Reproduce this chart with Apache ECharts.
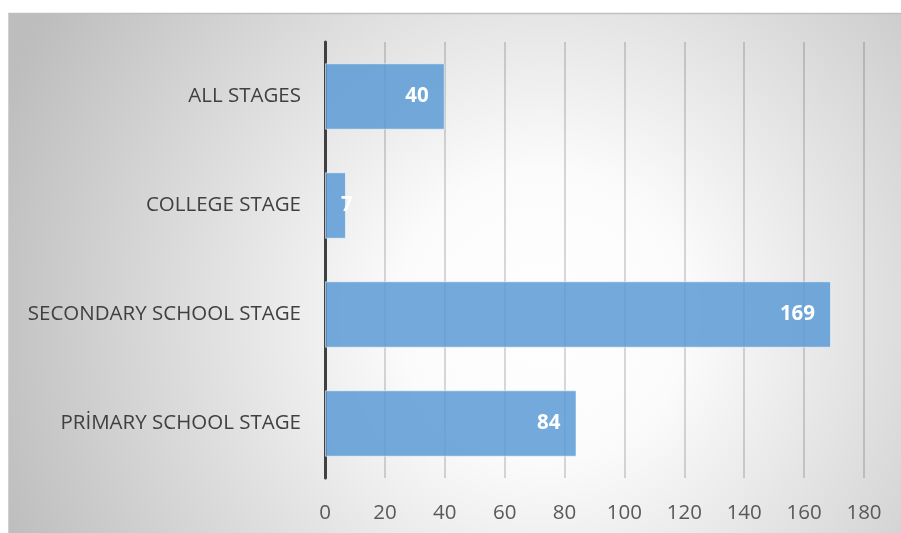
<!DOCTYPE html>
<html>
<head>
<meta charset="utf-8">
<script src="https://cdn.jsdelivr.net/npm/echarts@6/dist/echarts.min.js"></script>
<style>
  html, body { margin: 0; padding: 0; background: #ffffff; }
  #chart { width: 901px; height: 533px; }
</style>
</head>
<body>
<div id="chart"></div>
<script>
// Stages, listed bottom to top along the category axis
const categories = ['PRİMARY SCHOOL STAGE', 'SECONDARY SCHOOL STAGE', 'COLLEGE STAGE', 'ALL STAGES'];
const counts = [84, 169, 7, 40];
const xTicks = [0, 20, 40, 60, 80, 100, 120, 140, 160, 180];

const FONT = '"Open Sans", "Liberation Sans", sans-serif';

const chart = echarts.init(document.getElementById('chart'), null, { renderer: 'canvas' });

// Short bars get their value label placed just past the bar start
const barData = counts.map(v => {
  const item = { value: v };
  if (v < 15) {
    item.label = { position: 'insideLeft', distance: 16 };
  }
  return item;
});

chart.setOption({
  backgroundColor: '#ffffff',
  animation: false,
  graphic: [
    {
      type: 'rect',
      z: -10,
      silent: true,
      shape: { x: 8, y: 13, width: 893, height: 520 },
      style: {
        fill: {
          type: 'radial',
          x: 0.6, y: 0.58, r: 1.12,
          colorStops: [
            { offset: 0, color: '#ffffff' },
            { offset: 0.25, color: '#fbfbfb' },
            { offset: 1, color: '#bdbdbd' }
          ]
        }
      }
    },
    {
      type: 'line',
      z: -9,
      silent: true,
      shape: { x1: 8, y1: 13.5, x2: 901, y2: 13.5 },
      style: { stroke: '#bfbfbf', lineWidth: 1.5 }
    },
    {
      type: 'line',
      z: -9,
      silent: true,
      shape: { x1: 8.5, y1: 13, x2: 8.5, y2: 533 },
      style: { stroke: '#d0d0d0', lineWidth: 1 }
    }
  ],
  grid: { left: 325, right: 37, top: 42, bottom: 55, containLabel: false },
  xAxis: {
    type: 'value',
    min: xTicks[0],
    max: xTicks[xTicks.length - 1],
    interval: xTicks[1] - xTicks[0],
    axisLine: { show: false },
    axisTick: { show: false },
    splitLine: { show: true, lineStyle: { color: 'rgba(0,0,0,0.2)', width: 1.5 } },
    axisLabel: {
      color: '#595959',
      fontFamily: FONT,
      fontSize: 20.5,
      margin: 25
    }
  },
  yAxis: {
    type: 'category',
    data: categories,
    axisLine: { show: true, lineStyle: { color: '#404040', width: 3 } },
    axisTick: { show: false },
    axisLabel: {
      color: '#404040',
      fontFamily: FONT,
      fontSize: 20.5,
      margin: 24,
      padding: [3, 0, 0, 0]
    }
  },
  series: [
    {
      type: 'bar',
      data: barData,
      barWidth: '61%',
      itemStyle: {
        color: 'rgba(91,155,213,0.85)',
        borderColor: 'rgba(255,255,255,0.55)',
        borderWidth: 1
      },
      label: {
        show: true,
        position: 'insideRight',
        distance: 16,
        color: '#ffffff',
        fontFamily: FONT,
        fontWeight: 'bold',
        fontSize: 20.5
      }
    }
  ]
});
</script>
</body>
</html>
